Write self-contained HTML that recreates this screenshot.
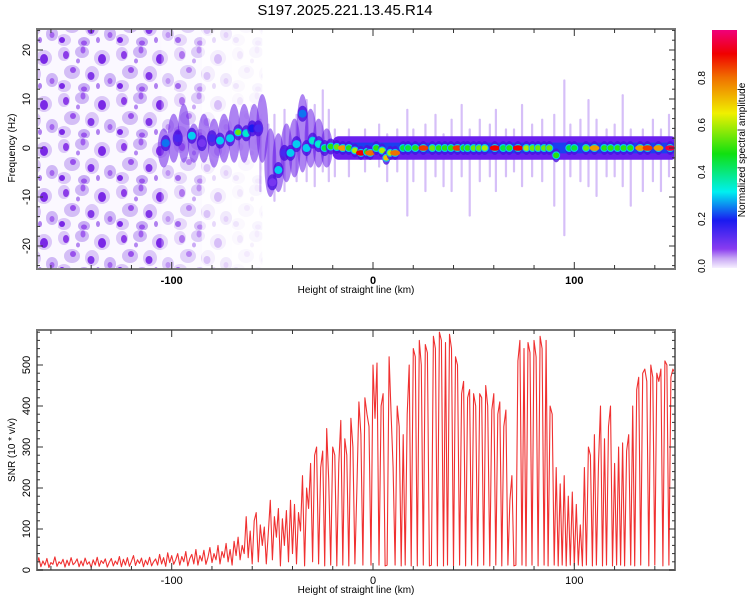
<!DOCTYPE html>
<html><head><meta charset="utf-8"><style>
body{margin:0;background:#fff;}
svg{display:block;font-family:"Liberation Sans",sans-serif;}
</style></head><body>
<svg id="c" width="750" height="600" xmlns="http://www.w3.org/2000/svg">
<defs>
<pattern id="noise" width="58" height="46" patternUnits="userSpaceOnUse">
<rect width="58" height="46" fill="#fbf8ff"/>
<ellipse cx="6" cy="8" rx="6" ry="7" fill="#dcc8f8"/>
<ellipse cx="24" cy="6" rx="7" ry="6" fill="#d0b8f6"/>
<ellipse cx="44" cy="12" rx="8" ry="8" fill="#dcc8f8"/>
<ellipse cx="14" cy="26" rx="8" ry="7" fill="#d4bef6"/>
<ellipse cx="34" cy="28" rx="7" ry="8" fill="#dcc8f8"/>
<ellipse cx="52" cy="34" rx="6" ry="7" fill="#d0b8f6"/>
<ellipse cx="6" cy="40" rx="7" ry="6" fill="#dcc8f8"/>
<ellipse cx="26" cy="42" rx="6" ry="5" fill="#c8acf4"/>
<ellipse cx="8" cy="9" rx="3" ry="4" fill="#8c3ce8"/>
<ellipse cx="25" cy="4" rx="2.5" ry="3.5" fill="#a060ee"/>
<ellipse cx="44" cy="13" rx="4" ry="5" fill="#7a28e6"/>
<ellipse cx="15" cy="24" rx="3" ry="3" fill="#9850ec"/>
<ellipse cx="33" cy="30" rx="3.5" ry="4" fill="#8236e8"/>
<ellipse cx="52" cy="35" rx="2.5" ry="3" fill="#a466ee"/>
<ellipse cx="4" cy="40" rx="3" ry="3" fill="#7a28e6"/>
<ellipse cx="26" cy="43" rx="3" ry="2.5" fill="#9a56ec"/>
<ellipse cx="40" cy="40" rx="2" ry="3" fill="#b080f0"/>
<ellipse cx="20" cy="15" rx="2" ry="2.5" fill="#b486f2"/>
</pattern>
<linearGradient id="cbar" x1="0" y1="1" x2="0" y2="0">
<stop offset="0" stop-color="#f6f0ff"/><stop offset="0.04" stop-color="#c8a8f4"/>
<stop offset="0.08" stop-color="#8a3cf0"/><stop offset="0.2" stop-color="#1a1af0"/>
<stop offset="0.32" stop-color="#00f0f0"/><stop offset="0.48" stop-color="#10e010"/>
<stop offset="0.65" stop-color="#f0f000"/><stop offset="0.8" stop-color="#f07000"/>
<stop offset="0.9" stop-color="#f00000"/><stop offset="1" stop-color="#f0007a"/>
</linearGradient>
<clipPath id="topclip"><rect x="37" y="29" width="638" height="240"/></clipPath>
<clipPath id="botclip"><rect x="37" y="330" width="638" height="240"/></clipPath>
</defs>
<text x="345" y="15" font-size="15" text-anchor="middle">S197.2025.221.13.45.R14</text>
<g id="topg" clip-path="url(#topclip)"></g>
<g id="botg" clip-path="url(#botclip)"></g>
<g id="axes"></g>
</svg>
<script>
// ---- spectrogram data ----
const ridgeKm = [-103,-97,-90,-85,-80,-76,-71,-67,-63,-60,-57,-50,-47,-44,-41,-38,-35,-33,-30,-27,-24,-21,-18,-15,-12,-9,-6,-3,-1.4,1.6,4.5,6.6,8.6,11,15,17.4,21,25,29.5,32.7,35.7,38.7,42,45,47,50,52.7,55.5,60.5,64.7,67.7,72,76.2,79.3,82,85,87.6,91,97.5,100,105.8,110,114.9,118,121.5,124.5,127.8,132.7,136.4,141.8,147.6];
const ridgeHz = [1,2,2.5,1,2,1.5,2,3.2,3,4,4,-7,-4.5,-1,-1,0.8,7,0,1.5,0.8,0,0.3,0.2,0,0,-0.5,-1,-0.8,-1,0,-0.5,-2,-1,-1,0,0,0,0,0,0,0,0,0,0,0,0,0,0,0,0,0,0,0,0,0,0,0,-1.5,0,0,0,0,0,0,0,0,0,0,0,0,0];
const ridgeAmp = [0.25,0.15,0.3,0.1,0.15,0.3,0.3,0.55,0.35,0.2,0.15,0.1,0.3,0.15,0.3,0.3,0.25,0.3,0.35,0.35,0.45,0.5,0.55,0.75,0.5,0.6,0.9,0.5,0.8,0.5,0.6,0.7,0.6,0.8,0.45,0.45,0.5,0.85,0.55,0.5,0.5,0.5,0.85,0.5,0.5,0.55,0.55,0.6,0.9,0.45,0.5,0.9,0.6,0.55,0.55,0.55,0.55,0.5,0.45,0.45,0.55,0.75,0.5,0.5,0.5,0.5,0.5,0.75,0.85,0.75,0.95];
const smearKm = [-104,-99,-94,-89,-84,-79,-74,-69,-64,-59,-55,-51,-47,-43,-39,-35,-31,-27,-23];
const smearHz = [0,2,3,1,2,1,2,3,3,3,4,-3,-3,-1,0,3,2,1,0];
const smearSpread = [4,5,6,4,5,5,5,6,6,6,7,7,6,6,6,8,6,5,4];
const streakKm = [-56,-52,-49,-44,-38,-33,-29,-25,-22,-19,-12,-4,3,7,12,17,20,26,31,35,39,44,48,53,58,61,66,70,74,79,84,90,95,98,103,107,111,116,120,124,128,134,139,143,147];
const streakTop = [6,5,7,8,7,10,9,12,8,4,4,4,5,3,4,8,4,5,7,3,6,9,4,6,5,8,4,4,9,5,6,7,14,5,6,10,6,4,5,11,4,4,6,4,7];
const streakBot = [-9,-8,-11,-9,-7,-7,-8,-5,-7,-6,-6,-5,-4,-7,-5,-14,-7,-9,-6,-8,-9,-6,-14,-7,-6,-9,-6,-5,-8,-6,-7,-12,-18,-6,-7,-8,-10,-6,-6,-8,-12,-9,-7,-9,-6];
// ---- SNR data (1 km steps starting at -168 km) ----
const snrStartKm = -168;
const snrValues = [
25,10,30,8,22,12,28,6,18,14, 32,9,20,15,26,7,24,11,30,13, 18,27,8,22,10,29,14,20,6,25,
12,31,9,23,16,27,7,19,28,10, 22,14,33,8,26,12,30,9,21,35, 11,25,16,29,8,24,13,31,10,20,
27,12,38,15,30,9,42,18,35,14, 25,40,12,33,20,45,10,28,38,15, 50,12,35,22,48,14,30,55,18,40,
25,60,15,45,30,65,20,50,12,70, 35,80,25,60,40,130,30,95,15,120, 140,20,110,60,105,15,90,170,25,130,
80,150,10,125,60,145,20,170,40,160, 15,140,95,230,10,200,150,260,20,280, 300,15,250,290,10,345,220,12,300,280,
10,260,365,12,320,280,10,370,300,15, 200,410,330,12,420,380,350,12,500,370, 505,12,400,430,10,12,520,380,250,12,
400,350,10,330,12,380,500,10,540,520, 10,560,500,12,550,530,10,12,570,540, 10,580,560,10,555,12,575,540,10,520,
500,12,430,460,10,420,440,12,430,400, 10,430,420,12,450,400,10,390,430,12, 380,410,10,350,390,12,170,230,10,12,
510,560,12,540,10,555,530,12,560,520, 10,570,540,12,560,10,400,380,12,250, 10,210,12,230,10,180,12,190,10,160,
12,110,10,250,12,300,280,10,330,12, 260,400,10,320,12,350,400,10,260,12, 300,12,310,10,290,330,12,400,10,440,
470,12,480,490,460,10,500,470,12,480, 460,490,10,510,500,12,470,490,480,470];

const NS='http://www.w3.org/2000/svg';
function mk(tag,attrs,parent){const e=document.createElementNS(NS,tag);for(const k in attrs)e.setAttribute(k,attrs[k]);parent.appendChild(e);return e;}
const xS=km=>373+(km)*2.013;
const yF=hz=>148-hz*4.9;
const yS=v=>570-v*0.41;
function cmap(a){
 const st=[[0,[246,240,255]],[0.04,[200,168,244]],[0.08,[138,60,240]],[0.2,[26,26,240]],[0.32,[0,240,240]],[0.48,[16,224,16]],[0.65,[240,240,0]],[0.8,[240,112,0]],[0.9,[240,0,0]],[1,[240,0,122]]];
 for(let i=1;i<st.length;i++){if(a<=st[i][0]){const t=(a-st[i-1][0])/(st[i][0]-st[i-1][0]);const c=st[i-1][1].map((v,j)=>Math.round(v+(st[i][1][j]-v)*t));return `rgb(${c})`;}}
 return 'rgb(240,0,122)';
}
const topG=document.getElementById('topg');
let r=mk('rect',{x:37,y:29,width:xS(-105)-37,height:240,fill:'url(#noise)'},topG);


r=mk('rect',{x:xS(-105),y:29,width:xS(-85)-xS(-105),height:240,fill:'url(#noise)',opacity:0.7},topG);


r=mk('rect',{x:xS(-85),y:29,width:xS(-70)-xS(-85),height:240,fill:'url(#noise)',opacity:0.3},topG);


r=mk('rect',{x:xS(-70),y:29,width:xS(-55)-xS(-70),height:240,fill:'url(#noise)',opacity:0.12},topG);


streakKm.forEach((k,i)=>{
 const l=mk('rect',{x:xS(k)-1,y:yF(streakTop[i]),width:2.2,height:yF(streakBot[i])-yF(streakTop[i]),fill:'#8a48ec',opacity:0.35,rx:1},topG);
 
 
});
smearKm.forEach((k,i)=>{
 const s=mk('ellipse',{cx:xS(k),cy:yF(smearHz[i]),rx:6,ry:smearSpread[i]*4.9,fill:'#6a1ee8',opacity:0.55},topG);
 
 
});
const band=mk('rect',{x:xS(-20),y:yF(2.4),width:xS(151)-xS(-20),height:yF(-2.4)-yF(2.4),fill:'#6a20ee',rx:6},topG);


const band2=mk('rect',{x:xS(-18),y:yF(1.1),width:xS(151)-xS(-18),height:yF(-1.1)-yF(1.1),fill:'#1a40f0',rx:4},topG);


ridgeKm.forEach((k,i)=>{
 const a=ridgeAmp[i], cx=xS(k), cy=yF(ridgeHz[i]);
 const o=mk('ellipse',{cx:cx,cy:cy,rx:k<-20?5:4,ry:k<-20?8:7,fill:'#4a10e0',opacity:0.8},topG);
 
 
 const m=mk('ellipse',{cx:cx,cy:cy,rx:4,ry:4,fill:cmap(Math.min(a,0.3))},topG);
 
 
 const c=mk('ellipse',{cx:cx,cy:cy,rx:a>0.7?5:3,ry:2.8,fill:cmap(a)},topG);
 
 
});
const botG=document.getElementById('botg');
let d='';
snrValues.forEach((v,i)=>{d+=(i?'L':'M')+xS(snrStartKm+i).toFixed(1)+','+yS(v).toFixed(1);});
const p=mk('path',{d:d,fill:'none',stroke:'#f03030','stroke-width':1.1,'stroke-linejoin':'round'},botG);


const ax=document.getElementById('axes');
function frame(y0,y1,name){
 const f=mk('rect',{x:37,y:y0,width:638,height:y1-y0,fill:'none',stroke:'#777','stroke-width':2},ax);
 
 
}
frame(29,269,'spectrogram-frame');frame(330,570,'snr-frame');
const xTicks=[-160,-140,-120,-100,-80,-60,-40,-20,0,20,40,60,80,100,120,140];
const xLabels=[-100,0,100];
function xaxis(y0,y1,ly,bold){
 xTicks.forEach(t=>{const L=(t%100===0)?7:4;
  mk('line',{x1:xS(t),x2:xS(t),y1:y0,y2:y0+L,stroke:'#333','stroke-width':1},ax);
  mk('line',{x1:xS(t),x2:xS(t),y1:y1,y2:y1-L,stroke:'#333','stroke-width':1},ax);});
 xLabels.forEach(t=>{const e=mk('text',{x:xS(t),y:ly,'font-size':11,'text-anchor':'middle','font-weight':bold?'bold':'normal'},ax);e.textContent=t;
  
  });
}
xaxis(29,269,284,true);xaxis(330,570,584,false);
const yTopTicks=[-24,-22,-20,-18,-16,-14,-12,-10,-8,-6,-4,-2,0,2,4,6,8,10,12,14,16,18,20,22,24];
const yTopLabels=[-20,-10,0,10,20];
yTopTicks.forEach(t=>{const L=t%10===0?6:3;
 mk('line',{x1:37,x2:37+L,y1:yF(t),y2:yF(t),stroke:'#333'},ax);
 mk('line',{x1:675,x2:675-L,y1:yF(t),y2:yF(t),stroke:'#333'},ax);});
yTopLabels.forEach(t=>{const e=mk('text',{x:0,y:0,'font-size':11,'text-anchor':'middle',transform:`translate(30,${yF(t)}) rotate(-90)`},ax);e.textContent=t;
 
 });
const ySnrTicks=[];for(let v=0;v<=580;v+=20)ySnrTicks.push(v);
const ySnrLabels=[0,100,200,300,400,500];
ySnrTicks.forEach(t=>{const L=t%100===0?6:3;
 mk('line',{x1:37,x2:37+L,y1:yS(t),y2:yS(t),stroke:'#333'},ax);
 mk('line',{x1:675,x2:675-L,y1:yS(t),y2:yS(t),stroke:'#333'},ax);});
ySnrLabels.forEach(t=>{const e=mk('text',{x:0,y:0,'font-size':11,'text-anchor':'middle',transform:`translate(30,${yS(t)}) rotate(-90)`},ax);e.textContent=t;
 
 });
function lbl(txt,x,y,rot,name,fs){const e=mk('text',{x:0,y:0,'font-size':fs||10,'text-anchor':'middle',transform:`translate(${x},${y}) rotate(${rot})`},ax);e.textContent=txt;
 
 }
lbl('Height of straight line (km)',356,293,0,'x-axis-title-top');
lbl('Height of straight line (km)',356,593,0,'x-axis-title-bottom');
lbl('Frequency (Hz)',15,148,-90,'y-axis-title-top');
lbl('SNR (10 * v/v)',15,450,-90,'y-axis-title-bottom');
const cb=mk('rect',{x:712,y:30,width:25,height:238,fill:'url(#cbar)'},ax);


const cbTicks=[0,0.2,0.4,0.6,0.8];
cbTicks.forEach(t=>{const e=mk('text',{x:0,y:0,'font-size':10,'text-anchor':'middle',transform:`translate(705,${266-t*235}) rotate(-90)`},ax);e.textContent=t.toFixed(1);
 
 });
lbl('Normalized spectral amplitude',745,150,-90,'colorbar-title');
</script>
</body></html>
